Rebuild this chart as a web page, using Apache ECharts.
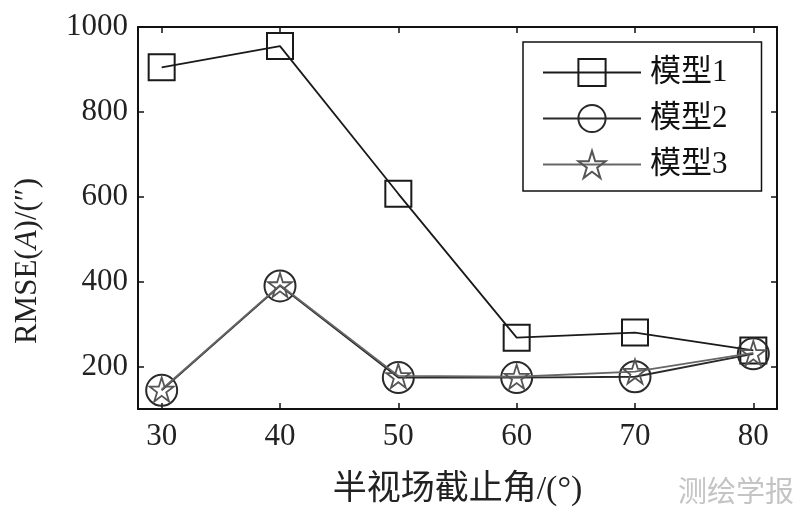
<!DOCTYPE html>
<html>
<head>
<meta charset="utf-8">
<script src="https://cdn.jsdelivr.net/npm/echarts@6/dist/echarts.min.js"></script>
<style>
html, body { margin: 0; padding: 0; background: #fff; }
#chart { width: 800px; height: 513px; }
</style>
</head>
<body>
<div id="chart"></div>
<script>
const angles = [30, 40, 50, 60, 70, 80]
const model1 = [905, 955, 607, 268, 280, 238]
const model2 = [144, 390, 174, 174, 176, 230]
const model3 = [146, 392, 178, 176, 188, 232]
const xTicks = [30, 40, 50, 60, 70, 80]
const yTicks = [200, 400, 600, 800, 1000]

const serif = '"Liberation Serif", "Noto Sans CJK SC", serif'
const starPath = 'path://M50 0 L61.23 34.55 L97.55 34.55 L68.17 55.9 L79.39 90.45 L50 69.1 L20.61 90.45 L31.83 55.9 L2.45 34.55 L38.77 34.55 Z'

const chart = echarts.init(document.getElementById('chart'))

const pairs = vals => angles.map((a, i) => [a, vals[i]])

const tickBase = {
    show: true,
    inside: true,
    length: 6,
    lineStyle: { color: '#111', width: 1.5 }
}

const option = {
    backgroundColor: '#fff',
    animation: false,
    grid: { left: 138, right: 23, top: 27, bottom: 104 },
    legend: {
        orient: 'vertical',
        left: 523,
        top: 42,
        padding: [15, 34, 11, 19],
        itemWidth: 98,
        itemHeight: 34,
        itemGap: 15,
        borderColor: '#111',
        borderWidth: 1.5,
        backgroundColor: '#fff',
        textStyle: { fontFamily: serif, fontSize: 31, color: '#111', padding: [0, 0, 0, 4] },
        data: ['模型1', '模型2', '模型3']
    },
    xAxis: [
        {
            type: 'value',
            min: 28,
            max: 82,
            name: '半视场截止角/(°)',
            nameLocation: 'middle',
            nameGap: 64,
            nameTextStyle: { fontFamily: serif, fontSize: 34, color: '#222' },
            axisLine: { show: true, lineStyle: { color: '#111', width: 2 } },
            axisTick: Object.assign({ customValues: xTicks }, tickBase),
            axisLabel: { customValues: xTicks, fontFamily: serif, fontSize: 31, color: '#222', margin: 12 },
            splitLine: { show: false }
        },
        {
            type: 'value',
            position: 'top',
            min: 28,
            max: 82,
            axisLine: { show: true, lineStyle: { color: '#111', width: 2 } },
            axisTick: Object.assign({ customValues: xTicks }, tickBase),
            axisLabel: { show: false },
            splitLine: { show: false }
        }
    ],
    yAxis: [
        {
            type: 'value',
            min: 100,
            max: 1000,
            name: '{n|RMSE(}{i|A}{n|)/(″)}',
            nameLocation: 'middle',
            nameGap: 95,
            nameRotate: 90,
            nameTextStyle: {
                padding: [0, 86, 0, 0],
                rich: {
                    n: { fontFamily: serif, fontSize: 31, color: '#222' },
                    i: { fontFamily: serif, fontSize: 31, fontStyle: 'italic', color: '#222' }
                }
            },
            axisLine: { show: true, lineStyle: { color: '#111', width: 2 } },
            axisTick: Object.assign({ customValues: yTicks }, tickBase),
            axisLabel: {
                customValues: yTicks,
                formatter: v => String(v),
                fontFamily: serif,
                fontSize: 31,
                color: '#222',
                margin: 10
            },
            splitLine: { show: false }
        },
        {
            type: 'value',
            position: 'right',
            min: 100,
            max: 1000,
            axisLine: { show: true, lineStyle: { color: '#111', width: 2 } },
            axisTick: Object.assign({ customValues: yTicks }, tickBase),
            axisLabel: { show: false },
            splitLine: { show: false }
        }
    ],
    graphic: [
        {
            type: 'text',
            right: 6,
            bottom: 8,
            style: { text: '测绘学报', font: '29px "Noto Sans CJK SC", sans-serif', fill: '#c4c4c4' }
        }
    ],
    series: [
        {
            name: '模型1',
            type: 'line',
            data: pairs(model1),
            symbol: 'rect',
            symbolSize: 26,
            lineStyle: { color: '#1a1a1a', width: 1.8 },
            itemStyle: { color: 'rgba(255,255,255,0)', borderColor: '#1a1a1a', borderWidth: 2 },
            z: 3
        },
        {
            name: '模型2',
            type: 'line',
            data: pairs(model2),
            symbol: 'circle',
            symbolSize: 31,
            lineStyle: { color: '#2a2a2a', width: 1.8 },
            itemStyle: { color: 'rgba(255,255,255,0)', borderColor: '#2a2a2a', borderWidth: 2 },
            z: 4
        },
        {
            name: '模型3',
            type: 'line',
            data: pairs(model3),
            symbol: starPath,
            symbolSize: 24,
            lineStyle: { color: '#666', width: 1.8 },
            itemStyle: { color: 'rgba(255,255,255,0)', borderColor: '#555', borderWidth: 1.8 },
            z: 5
        }
    ]
}

chart.setOption(option)

window.addEventListener('resize', () => {
    chart.resize()
})
</script>
</body>
</html>
